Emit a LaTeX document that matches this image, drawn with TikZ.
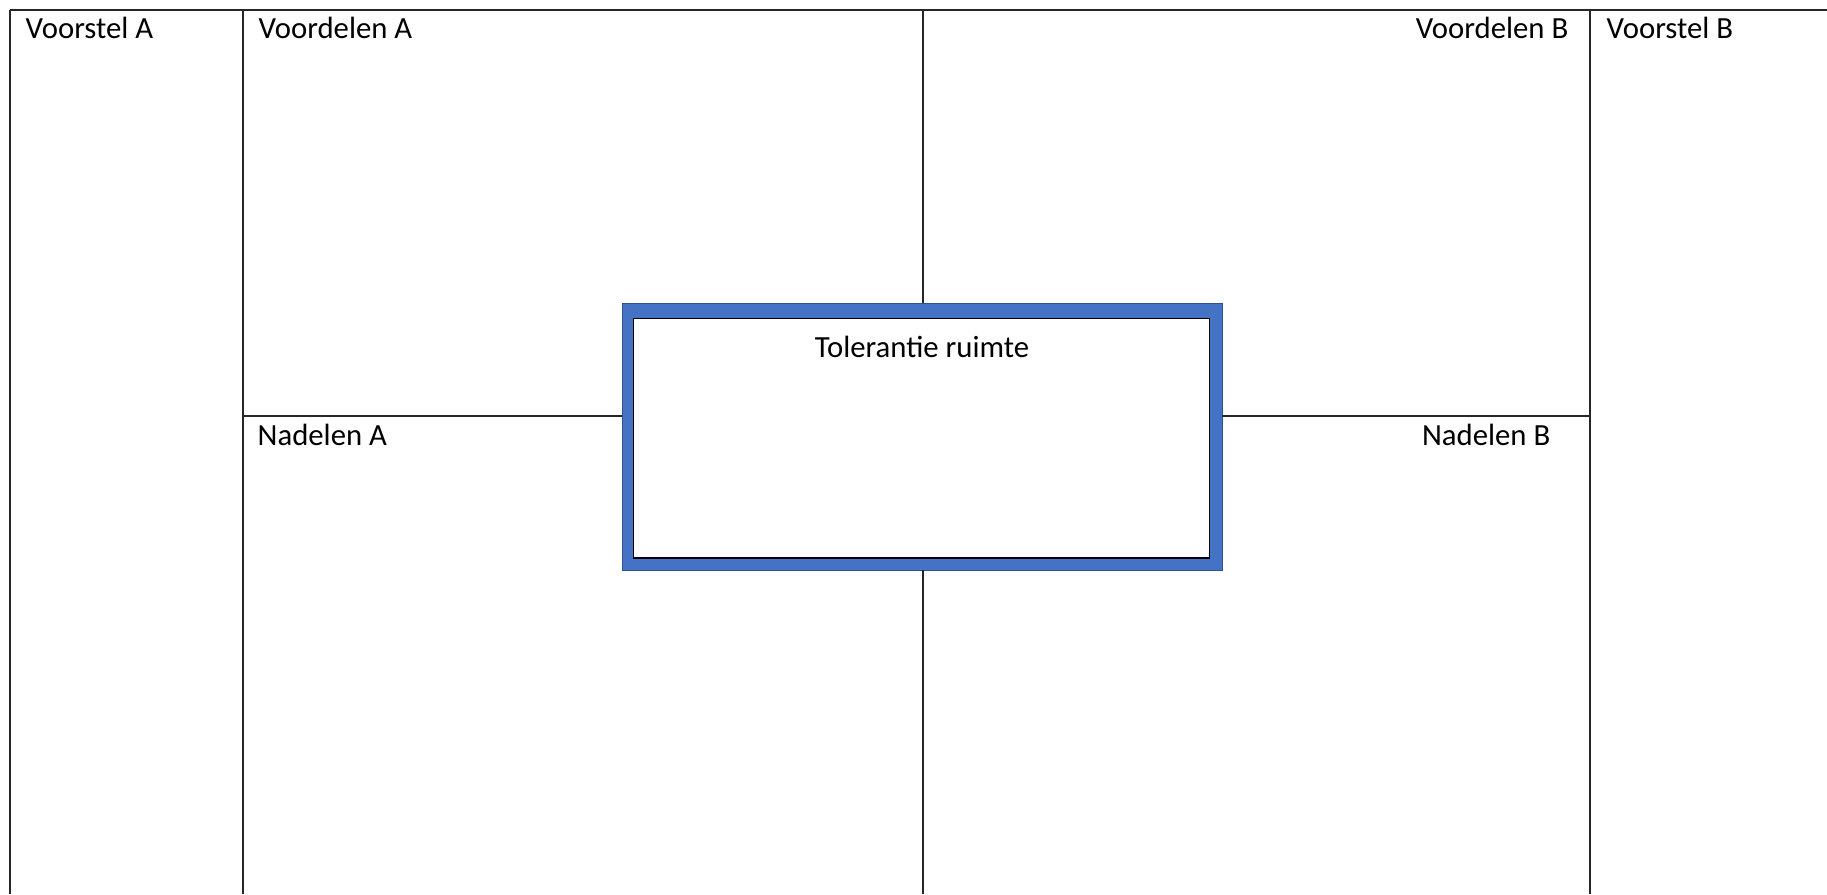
\documentclass[tikz,border=0pt]{standalone}
\usepackage{fontspec}
\setmainfont{Carlito}
\usetikzlibrary{calc}

\definecolor{boxblue}{HTML}{4472C4}
\definecolor{boxedge}{HTML}{2F528F}

\begin{document}
\begin{tikzpicture}[x=0.02cm, y=-0.02cm, line width=0.8pt]
  \useasboundingbox (0,0) rectangle (1827,894);
  \tikzset{
    cell/.style={inner sep=0pt, font=\fontsize{17.5}{21}\selectfont},
    grid/.style={black!85}
  }
  \coordinate (TL) at (10,10);
  \coordinate (TR) at (1827,10);
  \coordinate (BL) at (10,894);
  \coordinate (CA) at (243,10);
  \coordinate (CB) at (1590,10);
  \coordinate (CAb) at (243,894);
  \coordinate (CBb) at (1590,894);
  \coordinate (MT) at (923,10);
  \coordinate (MB) at (923,894);
  \coordinate (HA) at (243,416);
  \coordinate (HB) at (1590,416);

  % box in the middle
  \node[draw=boxedge, fill=boxblue, line width=0.5pt, minimum width=12cm,
        minimum height=5.34cm, inner sep=0pt] (tol) at (922,436.5) {};
  \node[draw=black, fill=white, line width=0.6pt, minimum width=11.54cm,
        minimum height=4.8cm, inner sep=0pt] (tolin) at (921.5,438) {};

  \draw[grid] (TL)--(TR);
  \draw[grid] (TL)--(BL);
  \draw[grid] (CA)--(CAb);
  \draw[grid] (CB)--(CBb);
  \draw[grid] (MT)--(MT|-tol.north);
  \draw[grid] (MB|-tol.south)--(MB);
  \draw[grid] (HA)--(HA-|tol.west);
  \draw[grid] (tol.east|-HB)--(HB);

  \node[cell, anchor=base west] (vsA) at (25,38) {Voorstel A};
  \node[cell, anchor=base west] (vdA) at (258,38) {Voordelen A};
  \node[cell, anchor=base east] (vdB) at (1569,38) {Voordelen B};
  \node[cell, anchor=base west] (vsB) at (1606,38) {Voorstel B};
  \node[cell, anchor=base west] (ndA) at (257,445) {Nadelen A};
  \node[cell, anchor=base east] (ndB) at (1551,445) {Nadelen B};
  \node[cell, anchor=base] (tr) at (922,357) {Tolerantie ruimte};
\end{tikzpicture}
\end{document}
